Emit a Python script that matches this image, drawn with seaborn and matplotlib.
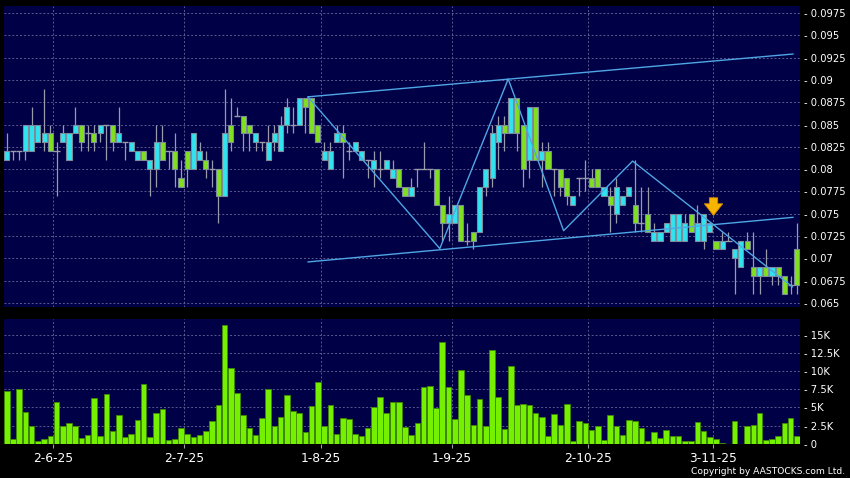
import matplotlib
matplotlib.use("Agg")
import matplotlib.pyplot as plt
import seaborn as sns
import numpy as np
import pandas as pd

# daily bars (128 trading days, late May - 20 Nov 2025)
open_ = [0.081, 0.082, 0.082, 0.082, 0.082, 0.083, 0.083, 0.084, 0.082, 0.083,
         0.081, 0.084, 0.085, 0.084, 0.084, 0.084, 0.085, 0.085, 0.083, 0.083,
         0.082, 0.081, 0.082, 0.080, 0.080, 0.083, 0.082, 0.082, 0.079, 0.082,
         0.080, 0.081, 0.081, 0.080, 0.080, 0.077, 0.085, 0.086, 0.086, 0.085,
         0.083, 0.083, 0.081, 0.083, 0.082, 0.085, 0.085, 0.085, 0.088, 0.088,
         0.085, 0.081, 0.080, 0.083, 0.084, 0.082, 0.082, 0.081, 0.081, 0.080,
         0.080, 0.080, 0.079, 0.080, 0.078, 0.077, 0.080, 0.080, 0.080, 0.080,
         0.076, 0.074, 0.074, 0.076, 0.072, 0.073, 0.073, 0.078, 0.079, 0.083,
         0.085, 0.084, 0.088, 0.085, 0.081, 0.087, 0.081, 0.082, 0.080, 0.080,
         0.079, 0.076, 0.079, 0.079, 0.079, 0.080, 0.077, 0.077, 0.075, 0.076,
         0.077, 0.076, 0.074, 0.075, 0.072, 0.072, 0.073, 0.072, 0.072, 0.072,
         0.075, 0.072, 0.072, 0.073, 0.072, 0.071, 0.072, 0.070, 0.069, 0.072,
         0.069, 0.068, 0.069, 0.068, 0.069, 0.068, 0.067, 0.071]
high = [0.084, 0.082, 0.082, 0.085, 0.087, 0.085, 0.089, 0.085, 0.083, 0.085,
        0.084, 0.087, 0.085, 0.085, 0.085, 0.085, 0.085, 0.085, 0.087, 0.083,
        0.083, 0.082, 0.082, 0.081, 0.085, 0.085, 0.082, 0.084, 0.081, 0.082,
        0.084, 0.083, 0.082, 0.081, 0.080, 0.089, 0.088, 0.087, 0.086, 0.085,
        0.084, 0.083, 0.085, 0.085, 0.086, 0.088, 0.087, 0.088, 0.088, 0.088,
        0.085, 0.083, 0.083, 0.085, 0.085, 0.083, 0.083, 0.082, 0.081, 0.082,
        0.082, 0.081, 0.081, 0.080, 0.078, 0.079, 0.080, 0.083, 0.080, 0.080,
        0.076, 0.077, 0.076, 0.076, 0.074, 0.073, 0.078, 0.080, 0.085, 0.086,
        0.086, 0.088, 0.088, 0.085, 0.087, 0.087, 0.083, 0.083, 0.080, 0.080,
        0.079, 0.077, 0.079, 0.081, 0.080, 0.080, 0.078, 0.078, 0.079, 0.077,
        0.078, 0.081, 0.078, 0.078, 0.074, 0.073, 0.074, 0.075, 0.075, 0.075,
        0.075, 0.076, 0.075, 0.074, 0.072, 0.073, 0.073, 0.071, 0.072, 0.073,
        0.073, 0.069, 0.071, 0.069, 0.069, 0.068, 0.068, 0.074]
low = [0.081, 0.081, 0.081, 0.081, 0.082, 0.083, 0.082, 0.082, 0.077, 0.083,
       0.081, 0.084, 0.082, 0.082, 0.082, 0.083, 0.081, 0.082, 0.083, 0.081,
       0.082, 0.081, 0.081, 0.077, 0.078, 0.081, 0.080, 0.078, 0.078, 0.078,
       0.080, 0.081, 0.079, 0.078, 0.074, 0.077, 0.082, 0.086, 0.082, 0.082,
       0.082, 0.082, 0.081, 0.082, 0.082, 0.084, 0.084, 0.085, 0.084, 0.084,
       0.083, 0.081, 0.080, 0.083, 0.079, 0.081, 0.082, 0.081, 0.079, 0.078,
       0.079, 0.080, 0.079, 0.078, 0.077, 0.077, 0.078, 0.080, 0.079, 0.076,
       0.072, 0.072, 0.074, 0.072, 0.0715, 0.071, 0.073, 0.077, 0.078, 0.080,
       0.082, 0.084, 0.082, 0.078, 0.079, 0.081, 0.078, 0.080, 0.077, 0.077,
       0.076, 0.076, 0.077, 0.0775, 0.078, 0.078, 0.077, 0.073, 0.074, 0.076,
       0.077, 0.073, 0.073, 0.073, 0.072, 0.072, 0.073, 0.072, 0.072, 0.072,
       0.073, 0.072, 0.071, 0.073, 0.071, 0.071, 0.072, 0.066, 0.069, 0.071,
       0.066, 0.066, 0.068, 0.067, 0.067, 0.066, 0.066, 0.066]
close = [0.082, 0.082, 0.082, 0.085, 0.085, 0.085, 0.084, 0.082, 0.082, 0.084,
         0.084, 0.085, 0.083, 0.084, 0.083, 0.085, 0.085, 0.083, 0.084, 0.083,
         0.083, 0.082, 0.081, 0.081, 0.083, 0.081, 0.082, 0.080, 0.078, 0.080,
         0.084, 0.082, 0.080, 0.080, 0.077, 0.084, 0.083, 0.086, 0.084, 0.084,
         0.084, 0.083, 0.083, 0.084, 0.085, 0.087, 0.085, 0.088, 0.087, 0.084,
         0.083, 0.082, 0.082, 0.084, 0.083, 0.082, 0.083, 0.082, 0.081, 0.081,
         0.080, 0.081, 0.080, 0.078, 0.077, 0.078, 0.080, 0.080, 0.080, 0.076,
         0.074, 0.075, 0.076, 0.072, 0.072, 0.072, 0.078, 0.080, 0.084, 0.085,
         0.084, 0.088, 0.084, 0.080, 0.087, 0.081, 0.082, 0.080, 0.080, 0.078,
         0.077, 0.077, 0.079, 0.079, 0.078, 0.078, 0.078, 0.076, 0.078, 0.077,
         0.078, 0.074, 0.074, 0.073, 0.073, 0.073, 0.074, 0.075, 0.075, 0.074,
         0.073, 0.074, 0.075, 0.074, 0.071, 0.072, 0.072, 0.071, 0.072, 0.071,
         0.068, 0.069, 0.068, 0.069, 0.068, 0.066, 0.067, 0.067]
volume_k = [7.3, 0.7, 7.6, 4.4, 2.4, 0.4, 0.7, 1.1, 5.7, 2.4,
            2.8, 2.4, 0.8, 1.2, 6.3, 1.0, 6.9, 1.8, 4.0, 0.9,
            1.4, 3.3, 8.3, 0.9, 4.2, 4.8, 0.5, 0.7, 2.2, 1.4,
            0.9, 1.2, 1.7, 3.1, 5.4, 16.4, 10.5, 7.0, 3.9, 2.1,
            1.2, 3.5, 7.5, 2.4, 3.7, 6.7, 4.5, 4.2, 1.6, 5.2,
            8.5, 2.4, 5.4, 1.3, 3.5, 3.4, 1.3, 1.0, 2.1, 5.0,
            6.4, 4.3, 5.7, 5.8, 2.3, 1.2, 2.9, 7.8, 8.0, 4.9,
            14.0, 7.8, 3.4, 10.2, 6.7, 2.6, 6.1, 2.4, 12.9, 6.4,
            2.0, 10.7, 5.3, 5.5, 5.3, 4.2, 3.7, 1.1, 4.1, 2.6,
            5.5, 0.4, 3.1, 2.8, 1.9, 2.5, 0.5, 3.9, 2.5, 1.2,
            3.3, 3.2, 2.2, 0.4, 1.6, 0.8, 1.9, 1.0, 1.1, 0.4,
            0.4, 3.0, 1.8, 0.9, 0.6, 0.1, 0.0, 3.2, 0.0, 2.4,
            2.6, 4.3, 0.5, 0.6, 1.1, 2.8, 3.5, 1.1]

# date labels and the trading-day index they belong to
date_labels = ["2-6-25", "2-7-25", "1-8-25", "1-9-25", "2-10-25", "3-11-25"]
date_index = [7, 28, 50, 71, 93, 113]

# hand-drawn channel and zigzag (trading-day index, price)
upper_x, upper_y = [48.4, 126.4], [0.0881, 0.0929]
lower_x, lower_y = [48.4, 126.4], [0.0696, 0.0746]
zigzag_x = [48.4, 69.6, 80.6, 89.5, 100.6, 126.3]
zigzag_y = [0.0881, 0.0711, 0.0901, 0.0731, 0.0809, 0.0668]
arrow_x, arrow_tip, arrow_top = 113.6, 0.0745, 0.0771

price_ticks = [0.065, 0.0675, 0.07, 0.0725, 0.075, 0.0775, 0.08, 0.0825,
               0.085, 0.0875, 0.09, 0.0925, 0.095, 0.0975]
vol_ticks = [0, 2.5, 5, 7.5, 10, 12.5, 15]
vol_tick_labels = ["0", "2.5K", "5K", "7.5K", "10K", "12.5K", "15K"]

df = pd.DataFrame({"open": open_, "high": high, "low": low,
                   "close": close, "volume": volume_k})
df["day"] = np.arange(len(df))

BG = "#000046"
CYAN = "#2fe4f0"
GREEN = "#80e01e"
GRID = "#5a5a8e"
LINE = "#4fa6e4"

sns.set_theme(style="dark", rc={"axes.facecolor": BG, "figure.facecolor": "black"})
plt.rcParams["font.family"] = ["DejaVu Sans"]

fig = plt.figure(figsize=(8.5, 4.78), dpi=100)
W, H = 850, 478
ax = fig.add_axes([4 / W, 1 - 307 / H, 796 / W, 301 / H])
axv = fig.add_axes([4 / W, 1 - 443.7 / H, 796 / W, 124.7 / H])

xmin, xmax = -0.45, 127.5
grid_x = [i + 0.5 for i in date_index]

for a in (ax, axv):
    a.set_facecolor(BG)
    for s in a.spines.values():
        s.set_visible(False)
    a.set_xlim(xmin, xmax)
    a.set_axisbelow(True)
    a.yaxis.tick_right()
    a.tick_params(axis="y", length=0, pad=3, labelsize=7.2, labelcolor="white")
    a.grid(False)
    for gx in grid_x:
        a.axvline(gx, color=GRID, lw=0.7, ls=(0, (2, 2)), zorder=0)

# price panel
for p in price_ticks:
    ax.axhline(p, color=GRID, lw=0.7, ls=(0, (2, 2)), zorder=0)
ax.vlines(df["day"], df["low"], df["high"], color="#9a9aaa", lw=0.9, zorder=2)

up = df[df["close"] > df["open"]]
dn = df[df["close"] < df["open"]]
flat = df[df["close"] == df["open"]]
ax.bar(up["day"], up["close"] - up["open"], bottom=up["open"], width=0.82,
       color=CYAN, edgecolor="#7d8c9a", linewidth=0.8, zorder=3)
ax.bar(dn["day"], dn["open"] - dn["close"], bottom=dn["close"], width=0.82,
       color=GREEN, edgecolor="#7d8c9a", linewidth=0.8, zorder=3)
ax.hlines(flat["open"], flat["day"] - 0.5, flat["day"] + 0.5,
          color="#9a9aaa", lw=1.0, zorder=3)

ax.plot(upper_x, upper_y, color=LINE, lw=1.0, zorder=4)
ax.plot(lower_x, lower_y, color=LINE, lw=1.0, zorder=4)
ax.plot(zigzag_x, zigzag_y, color=LINE, lw=1.0, zorder=4)
ax.annotate("", xy=(arrow_x, arrow_tip), xytext=(arrow_x, arrow_top),
            arrowprops=dict(arrowstyle="simple,head_width=1.1,head_length=0.7,tail_width=0.5",
                            fc="#f7b400", ec="#d08a00", lw=0.6), zorder=5)

ax.set_ylim(0.06455, 0.09828)
ax.set_yticks(price_ticks)
ax.set_yticklabels(["- %g" % p for p in price_ticks])
ax.set_xticks([])

# volume panel
for v in vol_ticks[1:]:
    axv.axhline(v, color=GRID, lw=0.7, ls=(0, (2, 2)), zorder=0)
sns.barplot(data=df, x="day", y="volume", native_scale=True, errorbar=None,
            color="#74f000", saturation=1, width=0.9, edgecolor="#3f8a00",
            linewidth=0.6, ax=axv, zorder=3)
axv.set_xlim(xmin, xmax)
axv.set_ylim(0, 17.2)
axv.set_yticks(vol_ticks)
axv.set_yticklabels(["- " + t for t in vol_tick_labels])
axv.set_xticks(grid_x)
axv.set_xticklabels(date_labels)
axv.tick_params(axis="x", length=3, width=0.8, color="#9a9aaa", pad=3,
                labelsize=8.8, labelcolor="white", bottom=True)
axv.set_xlabel("")
axv.set_ylabel("")

fig.text(845 / W, 1 - 471 / H, "Copyright by AASTOCKS.com Ltd.", color="white",
         fontsize=6.6, ha="right", va="center")

fig.savefig("out.png", dpi=100, facecolor="black")
